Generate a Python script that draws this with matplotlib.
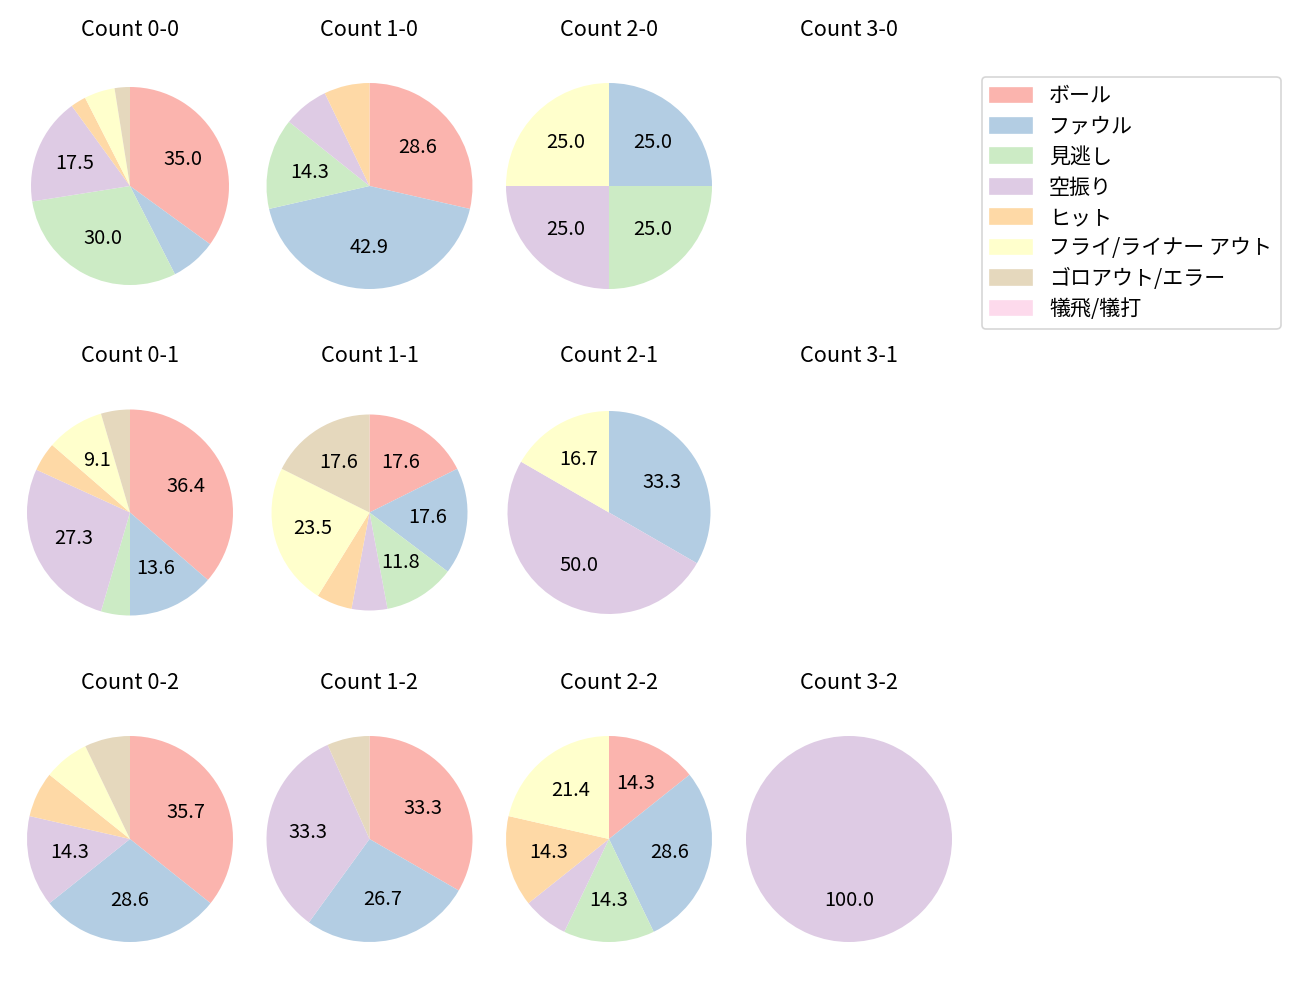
import matplotlib
matplotlib.use("Agg")
import matplotlib.pyplot as plt
import matplotlib.patches as mpatches

plt.rcParams['font.family'] = ['Noto Sans CJK JP', 'DejaVu Sans']
plt.rcParams['font.size'] = 12

categories = ['ボール', 'ファウル', '見逃し', '空振り', 'ヒット',
              'フライ/ライナー アウト', 'ゴロアウト/エラー', '犠飛/犠打']
colors = ['#fbb4ae', '#b3cde3', '#ccebc5', '#decbe4', '#fed9a6',
          '#ffffcc', '#e5d8bd', '#fddaec']

titles = ['Count 0-0', 'Count 1-0', 'Count 2-0', 'Count 3-0',
          'Count 0-1', 'Count 1-1', 'Count 2-1', 'Count 3-1',
          'Count 0-2', 'Count 1-2', 'Count 2-2', 'Count 3-2']

c00 = [14, 3, 12, 7, 1, 2, 1, 0]
c10 = [4, 6, 2, 1, 1, 0, 0, 0]
c20 = [0, 1, 1, 1, 0, 1, 0, 0]
c30 = [0, 0, 0, 0, 0, 0, 0, 0]
c01 = [8, 3, 1, 6, 1, 2, 1, 0]
c11 = [3, 3, 2, 1, 1, 4, 3, 0]
c21 = [0, 2, 0, 3, 0, 1, 0, 0]
c31 = [0, 0, 0, 0, 0, 0, 0, 0]
c02 = [5, 4, 0, 2, 1, 1, 1, 0]
c12 = [5, 4, 0, 5, 0, 0, 1, 0]
c22 = [2, 4, 2, 1, 2, 3, 0, 0]
c32 = [0, 0, 0, 1, 0, 0, 0, 0]

data = [c00, c10, c20, c30, c01, c11, c21, c31, c02, c12, c22, c32]

W, H = 1300, 1000
fig = plt.figure(figsize=(W / 120, H / 120), dpi=120)

col_cx = [130, 369.5, 609, 849]
row_cy = [186, 512.5, 839]
R = 103.0
aw, ah = 236, 281
# per-panel pie radius in pixels (layout only)
radius_px = [99, 103, 103, 103,
             103, 98, 101.5, 103,
             103, 103, 103, 103]


def fmt(p):
    return f'{p:.1f}' if p >= 8.5 else ''


for idx, (title, vals) in enumerate(zip(titles, data)):
    r, c = divmod(idx, 4)
    cx, cy = col_cx[c], row_cy[r]
    ax = fig.add_axes([(cx - aw / 2) / W, 1 - (cy + ah / 2) / H, aw / W, ah / H])
    if sum(vals) > 0:
        ax.pie(vals, colors=colors, startangle=90, counterclock=False,
               autopct=fmt, pctdistance=0.6, radius=radius_px[idx] / R,
               textprops={'fontsize': 12})
    ax.set_aspect('auto')
    ax.set_xlim(-aw / 2 / R, aw / 2 / R)
    ax.set_ylim(-ah / 2 / R, ah / 2 / R)
    ax.axis('off')
    ax.set_title(title, fontsize=13)

handles = [mpatches.Patch(color=col, label=lab) for col, lab in zip(colors, categories)]
fig.legend(handles=handles, loc='upper left', bbox_to_anchor=(982 / W, 1 - 77 / H),
           borderaxespad=0, fontsize=12.6, labelspacing=0.4, handlelength=2.0,
           handletextpad=0.8)

fig.savefig('out.png', dpi=120)
